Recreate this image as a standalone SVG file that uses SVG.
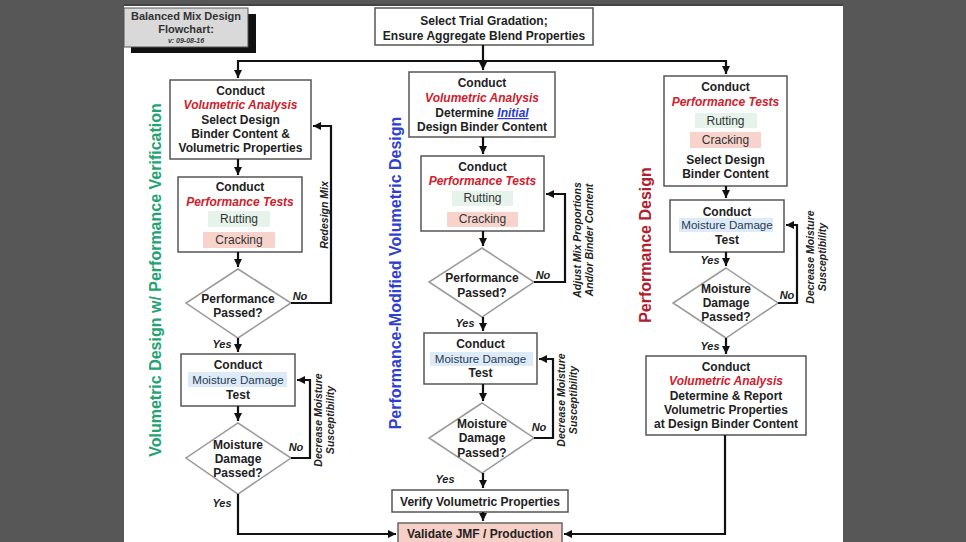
<svg xmlns="http://www.w3.org/2000/svg" width="966" height="542" viewBox="0 0 966 542">
<defs>
<marker id="ah" viewBox="0 0 10 10" refX="10" refY="5" markerWidth="8" markerHeight="8" markerUnits="userSpaceOnUse" orient="auto">
<path d="M0,0 L10,5 L0,10 z" fill="#111"/>
</marker>
</defs>
<style>
text{font-family:"Liberation Sans",Arial,sans-serif;fill:#222;text-anchor:middle}
.b{font-weight:bold;font-size:12px}
.red{fill:#d0202c;font-style:italic}
.r{font-size:12px;fill:#333}
.md{font-size:11.6px;fill:#2a3a55}
.box{fill:#fff;stroke:#555;stroke-width:1.5}
.dia{fill:#fff;stroke:#999;stroke-width:1.5}
.rut{fill:#e5f3ea}
.crk{fill:#f7d3cb}
.mdb{fill:#dcebf7}
.lbl{font-weight:bold;font-style:italic;font-size:11px}
.vl{font-weight:bold;font-style:italic;font-size:10.5px;dominant-baseline:central}
.sec{font-weight:bold;font-size:16px;dominant-baseline:central}
.c{fill:none;stroke:#111;stroke-width:2.2}
</style>
<rect width="966" height="542" fill="#575757"/>
<rect x="124" y="5" width="719" height="537" fill="#fff"/>
<line x1="124" y1="5" x2="843" y2="5" stroke="#444" stroke-width="2"/>

<g id="title">
<rect x="131" y="14" width="125" height="39" fill="#111"/>
<rect x="124" y="8" width="124" height="39" fill="#d9d9d9" stroke="#555" stroke-width="1"/>
<text x="186" y="20" style="font-weight:bold;font-size:11px;fill:#333">Balanced Mix Design</text>
<text x="186" y="33" style="font-weight:bold;font-size:11px;fill:#333">Flowchart:</text>
<text x="186" y="43" style="font-weight:bold;font-style:italic;font-size:7px;fill:#333">v: 09-08-16</text>
</g>

<g id="sections">
<text class="sec" transform="translate(155,280) rotate(-90)" style="fill:#22a374">Volumetric Design w/ Performance Verification</text>
<text class="sec" transform="translate(395,273) rotate(-90)" style="fill:#2f3fd0">Performance-Modified Volumetric Design</text>
<text class="sec" transform="translate(645,245) rotate(-90)" style="fill:#b0202e">Performance Design</text>
</g>

<g id="start">
<rect class="box" x="375" y="8" width="218" height="37"/>
<text class="b" x="484" y="25">Select Trial Gradation;</text>
<text class="b" x="484" y="40">Ensure Aggregate Blend Properties</text>
</g>

<!-- Left column -->
<g id="L1">
<rect class="box" x="170" y="80" width="141" height="79"/>
<text class="b" x="240.5" y="95">Conduct</text>
<text class="b red" x="240.5" y="109">Volumetric Analysis</text>
<text class="b" x="240.5" y="124">Select Design</text>
<text class="b" x="240.5" y="138">Binder Content &amp;</text>
<text class="b" x="240.5" y="152">Volumetric Properties</text>
</g>
<g id="L2">
<rect class="box" x="178" y="177" width="124" height="75"/>
<text class="b" x="240" y="191">Conduct</text>
<text class="b red" x="240" y="206">Performance Tests</text>
<rect class="rut" x="208" y="211" width="62" height="16"/>
<text class="r" x="239" y="223">Rutting</text>
<rect class="crk" x="203" y="232" width="72" height="16"/>
<text class="r" x="239" y="244">Cracking</text>
</g>
<g id="L3">
<polygon class="dia" points="238,269 291,303 238,338 186,303"/>
<text class="b" x="238" y="303">Performance</text>
<text class="b" x="238" y="317">Passed?</text>
</g>
<g id="L4">
<rect class="box" x="181" y="354" width="114" height="52"/>
<text class="b" x="238" y="369">Conduct</text>
<rect class="mdb" x="188" y="372" width="99" height="15"/>
<text class="md" x="238" y="384">Moisture Damage</text>
<text class="b" x="238" y="399">Test</text>
</g>
<g id="L5">
<polygon class="dia" points="238,423 291,458 238,494 186,458"/>
<text class="b" x="238" y="449">Moisture</text>
<text class="b" x="238" y="463">Damage</text>
<text class="b" x="238" y="477">Passed?</text>
</g>

<!-- Middle column -->
<g id="M1">
<rect class="box" x="409" y="72" width="146" height="65"/>
<text class="b" x="482" y="87">Conduct</text>
<text class="b red" x="482" y="102">Volumetric Analysis</text>
<text class="b" x="482" y="117">Determine <tspan style="fill:#2a3ad0;font-style:italic;text-decoration:underline">Initial</tspan></text>
<text class="b" x="482" y="131">Design Binder Content</text>
</g>
<g id="M2">
<rect class="box" x="421" y="156" width="123" height="75"/>
<text class="b" x="482.5" y="171">Conduct</text>
<text class="b red" x="482.5" y="185">Performance Tests</text>
<rect class="rut" x="452" y="191" width="61" height="15"/>
<text class="r" x="482.5" y="202">Rutting</text>
<rect class="crk" x="447" y="212" width="71" height="15"/>
<text class="r" x="482.5" y="223">Cracking</text>
</g>
<g id="M3">
<polygon class="dia" points="482,248 534,282 482,317 429,282"/>
<text class="b" x="482" y="282">Performance</text>
<text class="b" x="482" y="297">Passed?</text>
</g>
<g id="M4">
<rect class="box" x="424" y="333" width="113" height="51"/>
<text class="b" x="480.5" y="348">Conduct</text>
<rect class="mdb" x="430" y="352" width="103" height="14"/>
<text class="md" x="480.5" y="363">Moisture Damage</text>
<text class="b" x="480.5" y="377">Test</text>
</g>
<g id="M5">
<polygon class="dia" points="482,403 534,438 482,473 429,438"/>
<text class="b" x="482" y="428">Moisture</text>
<text class="b" x="482" y="442">Damage</text>
<text class="b" x="482" y="457">Passed?</text>
</g>
<g id="M6">
<rect class="box" x="392" y="490" width="176" height="22"/>
<text class="b" x="480" y="506">Verify Volumetric Properties</text>
</g>
<g id="M7">
<rect x="398" y="523" width="164" height="26" fill="#f6cfc6" stroke="#666" stroke-width="1.5"/>
<text class="b" x="480" y="538">Validate JMF / Production</text>
</g>

<!-- Right column -->
<g id="R1">
<rect class="box" x="664" y="76" width="123" height="110"/>
<text class="b" x="725.5" y="91">Conduct</text>
<text class="b red" x="725.5" y="106">Performance Tests</text>
<rect class="rut" x="695" y="113" width="62" height="15"/>
<text class="r" x="725.5" y="125">Rutting</text>
<rect class="crk" x="690" y="132" width="71" height="16"/>
<text class="r" x="725.5" y="144">Cracking</text>
<text class="b" x="725.5" y="164">Select Design</text>
<text class="b" x="725.5" y="178">Binder Content</text>
</g>
<g id="R2">
<rect class="box" x="670" y="200" width="114" height="52"/>
<text class="b" x="727" y="216">Conduct</text>
<rect class="mdb" x="679" y="218" width="94" height="14"/>
<text class="md" x="727" y="229">Moisture Damage</text>
<text class="b" x="727" y="244">Test</text>
</g>
<g id="R3">
<polygon class="dia" points="726,268 778,303 726,338 673,303"/>
<text class="b" x="726" y="293">Moisture</text>
<text class="b" x="726" y="307">Damage</text>
<text class="b" x="726" y="321">Passed?</text>
</g>
<g id="R4">
<rect class="box" x="646" y="356" width="160" height="79"/>
<text class="b" x="726" y="371">Conduct</text>
<text class="b red" x="726" y="385">Volumetric Analysis</text>
<text class="b" x="726" y="400">Determine &amp; Report</text>
<text class="b" x="726" y="414">Volumetric Properties</text>
<text class="b" x="726" y="428">at Design Binder Content</text>
</g>

<g id="connectors">
<path class="c" d="M483,45 V70" marker-end="url(#ah)"/>
<path class="c" d="M483,61 H238 V78" marker-end="url(#ah)"/>
<path class="c" d="M483,61 H726 V74" marker-end="url(#ah)"/>
<!-- left -->
<path class="c" d="M238,159 V175" marker-end="url(#ah)"/>
<path class="c" d="M238,252 V267" marker-end="url(#ah)"/>
<path class="c" d="M291,303 H331 V126 H313" marker-end="url(#ah)"/>
<path class="c" d="M238,338 V352" marker-end="url(#ah)"/>
<path class="c" d="M238,406 V421" marker-end="url(#ah)"/>
<path class="c" d="M291,458 H310 V380 H297" marker-end="url(#ah)"/>
<path class="c" d="M238,494 V534 H396" marker-end="url(#ah)"/>
<!-- middle -->
<path class="c" d="M483,137 V154" marker-end="url(#ah)"/>
<path class="c" d="M483,231 V246" marker-end="url(#ah)"/>
<path class="c" d="M534,282 H565 V194 H546" marker-end="url(#ah)"/>
<path class="c" d="M483,317 V331" marker-end="url(#ah)"/>
<path class="c" d="M483,384 V401" marker-end="url(#ah)"/>
<path class="c" d="M534,438 H553 V359 H539" marker-end="url(#ah)"/>
<path class="c" d="M483,473 V488" marker-end="url(#ah)"/>
<path class="c" d="M483,512 V521" marker-end="url(#ah)"/>
<!-- right -->
<path class="c" d="M726,186 V198" marker-end="url(#ah)"/>
<path class="c" d="M726,252 V266" marker-end="url(#ah)"/>
<path class="c" d="M778,303 H797 V225 H786" marker-end="url(#ah)"/>
<path class="c" d="M726,338 V354" marker-end="url(#ah)"/>
<path class="c" d="M725,435 V534 H564" marker-end="url(#ah)"/>

<text class="lbl" x="300" y="300">No</text>
<text class="lbl" x="222" y="348">Yes</text>
<text class="lbl" x="296" y="451">No</text>
<text class="lbl" x="222" y="507">Yes</text>
<text class="vl" transform="translate(324,215) rotate(-90)">Redesign Mix</text>
<text class="vl" transform="translate(318,420) rotate(-90)">Decrease Moisture</text>
<text class="vl" transform="translate(330,420) rotate(-90)">Susceptibility</text>

<text class="lbl" x="543" y="279">No</text>
<text class="lbl" x="465" y="327">Yes</text>
<text class="lbl" x="539" y="431">No</text>
<text class="lbl" x="445" y="483">Yes</text>
<text class="vl" transform="translate(577,240) rotate(-90)">Adjust Mix Proportions</text>
<text class="vl" transform="translate(589,240) rotate(-90)">And/or Binder Content</text>
<text class="vl" transform="translate(561,400) rotate(-90)">Decrease Moisture</text>
<text class="vl" transform="translate(573,400) rotate(-90)">Susceptibility</text>

<text class="lbl" x="710" y="264">Yes</text>
<text class="lbl" x="787" y="299">No</text>
<text class="lbl" x="710" y="350">Yes</text>
<text class="vl" transform="translate(810,257) rotate(-90)">Decrease Moisture</text>
<text class="vl" transform="translate(822,257) rotate(-90)">Susceptibility</text>
</g>
</svg>
